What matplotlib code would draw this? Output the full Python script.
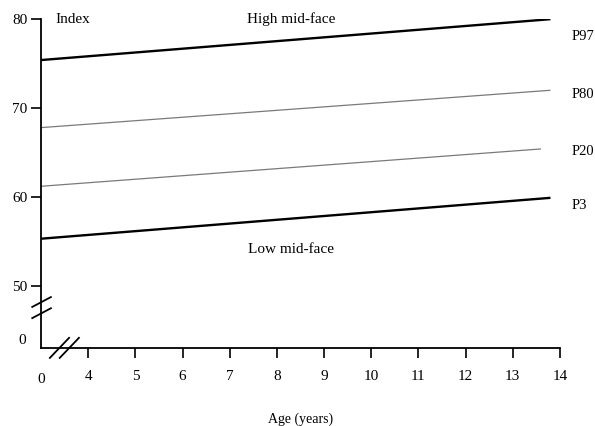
import matplotlib.pyplot as plt

plt.rcParams['font.family'] = ['Liberation Serif', 'DejaVu Serif']

# percentile lines: age at start/end and index value at start/end
age_start = [3.0, 3.0, 3.0, 3.0]
age_end = [13.8, 13.8, 13.6, 13.8]
names = ['P97', 'P80', 'P20', 'P3']
idx_start = [75.4, 67.8, 61.2, 55.3]
idx_end = [80.0, 72.0, 65.4, 59.9]
label_y = [78.0, 71.5, 65.1, 59.0]

x_ticks = [4, 5, 6, 7, 8, 9, 10, 11, 12, 13, 14]
y_ticks = [50, 60, 70, 80]

fig = plt.figure(figsize=(5.95, 4.26), dpi=100)
ax = fig.add_axes([0.069, 0.183, 0.872, 0.772])

for i in range(len(names)):
    heavy = names[i] in ('P97', 'P3')
    ax.plot([age_start[i], age_end[i]], [idx_start[i], idx_end[i]],
            color='black' if heavy else '#7a7a7a', lw=1.7 if heavy else 0.9,
            solid_capstyle='butt')
    ax.text(14.25, label_y[i], names[i], fontsize=10.5, va='center', ha='left',
            clip_on=False)

ax.set_xlim(3, 14)
ax.set_ylim(43, 80)
ax.set_xticks(x_ticks)
ax.set_yticks(y_ticks)
ax.tick_params(direction='out', length=7, width=1.2, labelsize=11)
ax.tick_params(axis='x', pad=9)
ax.tick_params(axis='y', pad=3)
for s in ['top', 'right']:
    ax.spines[s].set_visible(False)
for s in ['left', 'bottom']:
    ax.spines[s].set_linewidth(1.3)

# broken axis "0" labels
ax.text(-0.029, 43.9, '0', transform=ax.get_yaxis_transform(), ha='right',
        va='center', fontsize=11)
ax.text(3.0, -0.076, '0', transform=ax.get_xaxis_transform(), ha='center',
        va='top', fontsize=11)

# break marks on both axes (axes coordinates)
tr = ax.transAxes
ax.plot([0, 0], [0.118, 0.128], color='white', lw=2.5, transform=tr, clip_on=False)
for y0 in (0.091, 0.125):
    ax.plot([-0.017, 0.019], [y0, y0 + 0.03], color='black', lw=1.3,
            transform=tr, clip_on=False)
ax.plot([0.03, 0.055], [0, 0], color='white', lw=2.5, transform=tr, clip_on=False)
for x0 in (0.017, 0.036):
    ax.plot([x0, x0 + 0.037], [-0.03, 0.031], color='black', lw=1.3,
            transform=tr, clip_on=False)

ax.text(3.3, 80, 'Index', fontsize=11, va='center', ha='left')
ax.text(8.3, 80, 'High mid-face', fontsize=11, va='center', ha='center')
ax.text(8.3, 54.1, 'Low mid-face', fontsize=11, va='center', ha='center')

ax.set_xlabel('Age (years)', fontsize=10, labelpad=21)

fig.savefig('out.png', dpi=100)
